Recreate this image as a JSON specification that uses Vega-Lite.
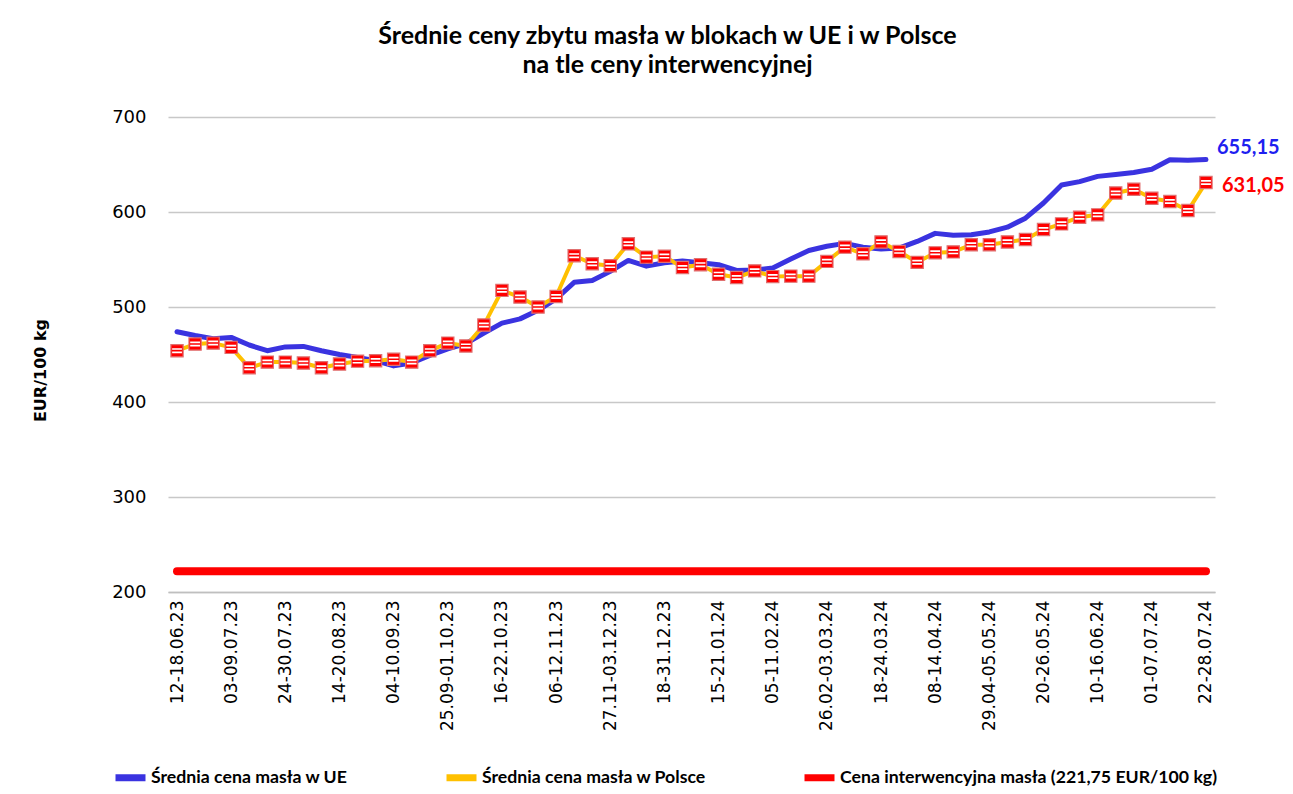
{
  "$schema": "https://vega.github.io/schema/vega-lite/v6.json",
  "autosize": {"type": "none"},
  "width": 1047,
  "height": 475,
  "padding": {"left": 168, "top": 117, "right": 78, "bottom": 202},
  "background": "white",
  "config": {
    "view": {"stroke": null},
    "font": "Lato",
    "locale": {"number": {"decimal": ",", "thousands": " ", "grouping": [3], "currency": ["", " zł"]}}
  },
  "title": {
    "text": ["Średnie ceny zbytu masła w blokach w UE i w Polsce", "na tle ceny interwencyjnej"],
    "font": "Lato",
    "fontSize": 25,
    "fontWeight": "bold",
    "color": "#000000",
    "lineHeight": 29,
    "anchor": "middle",
    "dx": -24,
    "offset": 30
  },
  "data": {
    "values": [
      {"week": "12-18.06.23", "ue": 474, "pl": 454},
      {"week": "19-25.06.23", "ue": 470, "pl": 461},
      {"week": "26.06-02.07.23", "ue": 466.5, "pl": 462},
      {"week": "03-09.07.23", "ue": 468, "pl": 457.5},
      {"week": "10-16.07.23", "ue": 460, "pl": 436},
      {"week": "17-23.07.23", "ue": 454, "pl": 442},
      {"week": "24-30.07.23", "ue": 458, "pl": 442},
      {"week": "31.07-06.08.23", "ue": 458.5, "pl": 441},
      {"week": "07-13.08.23", "ue": 454, "pl": 436},
      {"week": "14-20.08.23", "ue": 450, "pl": 440},
      {"week": "21-27.08.23", "ue": 447, "pl": 443},
      {"week": "28.08-03.09.23", "ue": 443.5, "pl": 443.5},
      {"week": "04-10.09.23", "ue": 438, "pl": 445},
      {"week": "11-17.09.23", "ue": 441, "pl": 442},
      {"week": "18-24.09.23", "ue": 449, "pl": 454},
      {"week": "25.09-01.10.23", "ue": 456, "pl": 462},
      {"week": "02-08.10.23", "ue": 461.5, "pl": 459},
      {"week": "09-15.10.23", "ue": 472.5, "pl": 481},
      {"week": "16-22.10.23", "ue": 483, "pl": 517.5},
      {"week": "23-29.10.23", "ue": 487.5, "pl": 510.5},
      {"week": "30.10-05.11.23", "ue": 496.5, "pl": 500},
      {"week": "06-12.11.23", "ue": 508.5, "pl": 511},
      {"week": "13-19.11.23", "ue": 526, "pl": 554},
      {"week": "20-26.11.23", "ue": 528, "pl": 545.5},
      {"week": "27.11-03.12.23", "ue": 537.5, "pl": 543.5},
      {"week": "04-10.12.23", "ue": 549, "pl": 566.5},
      {"week": "11-17.12.23", "ue": 543, "pl": 552.5},
      {"week": "18-31.12.23", "ue": 546.5, "pl": 553.5},
      {"week": "01-07.01.24", "ue": 548.5, "pl": 541.5},
      {"week": "08-14.01.24", "ue": 546.5, "pl": 544.5},
      {"week": "15-21.01.24", "ue": 544.5, "pl": 534.5},
      {"week": "22-28.01.24", "ue": 538.5, "pl": 531},
      {"week": "29.01-04.02.24", "ue": 539, "pl": 538},
      {"week": "05-11.02.24", "ue": 541, "pl": 532},
      {"week": "12-18.02.24", "ue": 550.5, "pl": 532.5},
      {"week": "19-25.02.24", "ue": 559.5, "pl": 532.5},
      {"week": "26.02-03.03.24", "ue": 564, "pl": 548},
      {"week": "04-10.03.24", "ue": 567, "pl": 563},
      {"week": "11-17.03.24", "ue": 563, "pl": 556},
      {"week": "18-24.03.24", "ue": 561, "pl": 568.5},
      {"week": "25-31.03.24", "ue": 562, "pl": 558.5},
      {"week": "01-07.04.24", "ue": 569, "pl": 547},
      {"week": "08-14.04.24", "ue": 577.5, "pl": 557},
      {"week": "15-21.04.24", "ue": 575.5, "pl": 558},
      {"week": "22-28.04.24", "ue": 576, "pl": 565.5},
      {"week": "29.04-05.05.24", "ue": 579, "pl": 565.5},
      {"week": "06-12.05.24", "ue": 584, "pl": 568.5},
      {"week": "13-19.05.24", "ue": 593.5, "pl": 571},
      {"week": "20-26.05.24", "ue": 609.5, "pl": 581.5},
      {"week": "27.05-02.06.24", "ue": 628.5, "pl": 587.5},
      {"week": "03-09.06.24", "ue": 632, "pl": 594.5},
      {"week": "10-16.06.24", "ue": 637.5, "pl": 597},
      {"week": "17-23.06.24", "ue": 639.5, "pl": 620},
      {"week": "24-30.06.24", "ue": 641.5, "pl": 624},
      {"week": "01-07.07.24", "ue": 645, "pl": 614.5},
      {"week": "08-14.07.24", "ue": 655, "pl": 611},
      {"week": "15-21.07.24", "ue": 654.5, "pl": 601.5},
      {"week": "22-28.07.24", "ue": 655.15, "pl": 631.05}
    ]
  },
  "encoding": {
    "x": {
      "field": "week",
      "type": "ordinal",
      "sort": null,
      "scale": {"type": "point", "padding": 0.5},
      "axis": {
        "title": null,
        "values": ["12-18.06.23", "03-09.07.23", "24-30.07.23", "14-20.08.23", "04-10.09.23", "25.09-01.10.23", "16-22.10.23", "06-12.11.23", "27.11-03.12.23", "18-31.12.23", "15-21.01.24", "05-11.02.24", "26.02-03.03.24", "18-24.03.24", "08-14.04.24", "29.04-05.05.24", "20-26.05.24", "10-16.06.24", "01-07.07.24", "22-28.07.24"],
        "labelAngle": -90,
        "labelAlign": "right",
        "labelBaseline": "middle",
        "labelFont": "DejaVu Sans",
        "labelFontSize": 17,
        "labelColor": "#000000",
        "labelPadding": 8,
        "ticks": false,
        "grid": false,
        "domainColor": "#BFBFBF",
        "domainWidth": 1.5
      }
    }
  },
  "layer": [
    {
      "mark": {"type": "line", "strokeWidth": 8, "strokeCap": "round"},
      "encoding": {
        "y": {
          "datum": 221.75,
          "type": "quantitative",
          "scale": {"domain": [200, 700]},
          "axis": {
            "title": "EUR/100 kg",
            "titleFont": "DejaVu Sans",
            "titleFontSize": 16,
            "titleFontWeight": "bold",
            "titleColor": "#000000",
            "titleAngle": -90,
            "titleAlign": "center",
            "titleBaseline": "middle",
            "titleX": -128,
            "titleY": 253,
            "values": [200, 300, 400, 500, 600, 700],
            "labelFont": "DejaVu Sans",
            "labelFontSize": 18,
            "labelColor": "#000000",
            "labelPadding": 22,
            "ticks": false,
            "domain": false,
            "grid": true,
            "gridColor": "#C8C8C8",
            "gridWidth": 1.3
          }
        },
        "color": {
          "datum": "Cena interwencyjna masła (221,75 EUR/100 kg)",
          "type": "nominal",
          "scale": {
            "domain": ["Średnia cena masła w UE", "Średnia cena masła w Polsce", "Cena interwencyjna masła (221,75 EUR/100 kg)"],
            "range": ["#3A33E0", "#FFC000", "#FF0000"]
          },
          "legend": {
            "orient": "none",
            "legendX": -56,
            "legendY": 642,
            "direction": "horizontal",
            "title": null,
            "symbolType": "stroke",
            "symbolStrokeWidth": 7,
            "symbolSize": 900,
            "labelFont": "Lato",
            "labelFontSize": 17.7,
            "labelFontWeight": "bold",
            "labelColor": "#000000",
            "labelOffset": 2,
            "labelLimit": 500,
            "columnPadding": 84
          }
        }
      }
    },
    {
      "mark": {"type": "line", "strokeWidth": 5, "strokeCap": "round", "strokeJoin": "round"},
      "encoding": {
        "y": {"field": "ue", "type": "quantitative"},
        "color": {"datum": "Średnia cena masła w UE", "type": "nominal"}
      }
    },
    {
      "mark": {"type": "line", "strokeWidth": 4, "strokeJoin": "round"},
      "encoding": {
        "y": {"field": "pl", "type": "quantitative"},
        "color": {"datum": "Średnia cena masła w Polsce", "type": "nominal"}
      }
    },
    {
      "mark": {"type": "point", "shape": "square", "filled": true, "fill": "#FF0000", "stroke": "#E07070", "strokeWidth": 1.2, "size": 150, "opacity": 1},
      "encoding": {
        "y": {"field": "pl", "type": "quantitative"}
      }
    },
    {
      "mark": {"type": "point", "shape": "M-0.8,-0.42L0.8,-0.42L0.8,-0.14L-0.8,-0.14Z M-0.8,0.12L0.8,0.12L0.8,0.4L-0.8,0.4Z", "filled": true, "fill": "#FFFFFF", "strokeWidth": 0, "size": 150, "opacity": 1},
      "encoding": {
        "y": {"field": "pl", "type": "quantitative"}
      }
    },
    {
      "transform": [{"filter": "datum.week === '22-28.07.24'"}],
      "mark": {"type": "text", "align": "left", "baseline": "middle", "dx": 11, "dy": -12, "font": "Lato", "fontSize": 20, "fontWeight": "bold", "color": "#1F1FF0"},
      "encoding": {
        "y": {"field": "ue", "type": "quantitative"},
        "text": {"field": "ue", "type": "quantitative", "format": ".2f"}
      }
    },
    {
      "transform": [{"filter": "datum.week === '22-28.07.24'"}],
      "mark": {"type": "text", "align": "left", "baseline": "middle", "dx": 16, "dy": 3, "font": "Lato", "fontSize": 20, "fontWeight": "bold", "color": "#FF0000"},
      "encoding": {
        "y": {"field": "pl", "type": "quantitative"},
        "text": {"field": "pl", "type": "quantitative", "format": ".2f"}
      }
    }
  ]
}
